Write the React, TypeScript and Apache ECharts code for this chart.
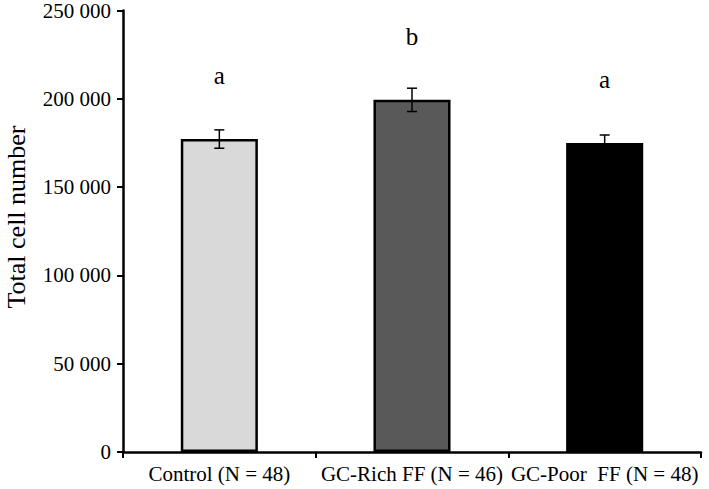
import React, { useEffect, useRef } from "react";
import * as echarts from "echarts";

const categories = ["Control (N = 48)", "GC-Rich FF (N = 46)", "GC-Poor  FF (N = 48)"];
const means = [177200, 199400, 175000];
const errors = [5200, 6600, 4500];
const letters = ["a", "b", "a"];
const barColors = ["#d9d9d9", "#595959", "#000000"];
const yTicks = { min: 0, max: 250000, interval: 50000 };

const FONT = "'Liberation Serif', 'Times New Roman', serif";

export default function App() {
  const ref = useRef<HTMLDivElement>(null);
  useEffect(() => {
    if (!ref.current) return;
    const chart = echarts.init(ref.current, undefined, { renderer: "svg" });
    chart.setOption({
      animation: false,
      backgroundColor: "#ffffff",
      grid: { left: 123, right: 8, top: 7, bottom: 37, containLabel: false },
      graphic: [
        {
          type: "text",
          x: 16,
          y: 217,
          rotation: Math.PI / 2,
          style: {
            text: "Total cell number",
            font: `26px ${FONT}`,
            fill: "#000",
            textAlign: "center",
            textVerticalAlign: "middle",
          },
        },
      ],
      xAxis: {
        type: "category",
        data: categories,
        axisLine: { lineStyle: { color: "#000", width: 2.5 } },
        axisTick: { show: true, alignWithLabel: false, length: 6, lineStyle: { color: "#000", width: 2 } },
        axisLabel: { interval: 0, color: "#000", fontFamily: FONT, fontSize: 21, margin: 11 },
        splitLine: { show: false },
      },
      yAxis: {
        type: "value",
        min: yTicks.min,
        max: yTicks.max,
        interval: yTicks.interval,
        axisLine: { show: true, lineStyle: { color: "#000", width: 2.5 } },
        axisTick: { show: true, length: 6, lineStyle: { color: "#000", width: 2 } },
        axisLabel: {
          color: "#000",
          fontFamily: FONT,
          fontSize: 21,
          margin: 12,
          formatter: (v: number) => String(v).replace(/\B(?=(\d{3})+(?!\d))/g, " "),
        },
        splitLine: { show: false },
      },
      series: [
        {
          type: "bar",
          barWidth: "40%",
          data: means.map((v, i) => ({
            value: v,
            itemStyle: { color: barColors[i], borderColor: "#000", borderWidth: 2.5 },
          })),
          label: {
            show: true,
            position: "top",
            distance: 51,
            color: "#000",
            fontFamily: FONT,
            fontSize: 25,
            formatter: (p: any) => letters[p.dataIndex],
          },
          z: 2,
        },
        {
          type: "custom",
          z: 5,
          data: means.map((v, i) => [i, v, errors[i]]),
          renderItem: (params: any, api: any) => {
            const x = api.value(0);
            const m = api.value(1);
            const e = api.value(2);
            const top = api.coord([x, m + e]);
            const bot = api.coord([x, m - e]);
            const hw = 5;
            const style = { stroke: "#000", lineWidth: 1.5 };
            return {
              type: "group",
              children: [
                { type: "line", shape: { x1: top[0], y1: top[1], x2: bot[0], y2: bot[1] }, style },
                { type: "line", shape: { x1: top[0] - hw, y1: top[1], x2: top[0] + hw, y2: top[1] }, style },
                { type: "line", shape: { x1: bot[0] - hw, y1: bot[1], x2: bot[0] + hw, y2: bot[1] }, style },
              ],
            };
          },
        },
      ],
    });
    return () => chart.dispose();
  }, []);
  return (
    <div
      ref={ref}
      style={{ position: "fixed", left: 0, top: 0, width: 709, height: 489, background: "#fff" }}
    />
  );
}
